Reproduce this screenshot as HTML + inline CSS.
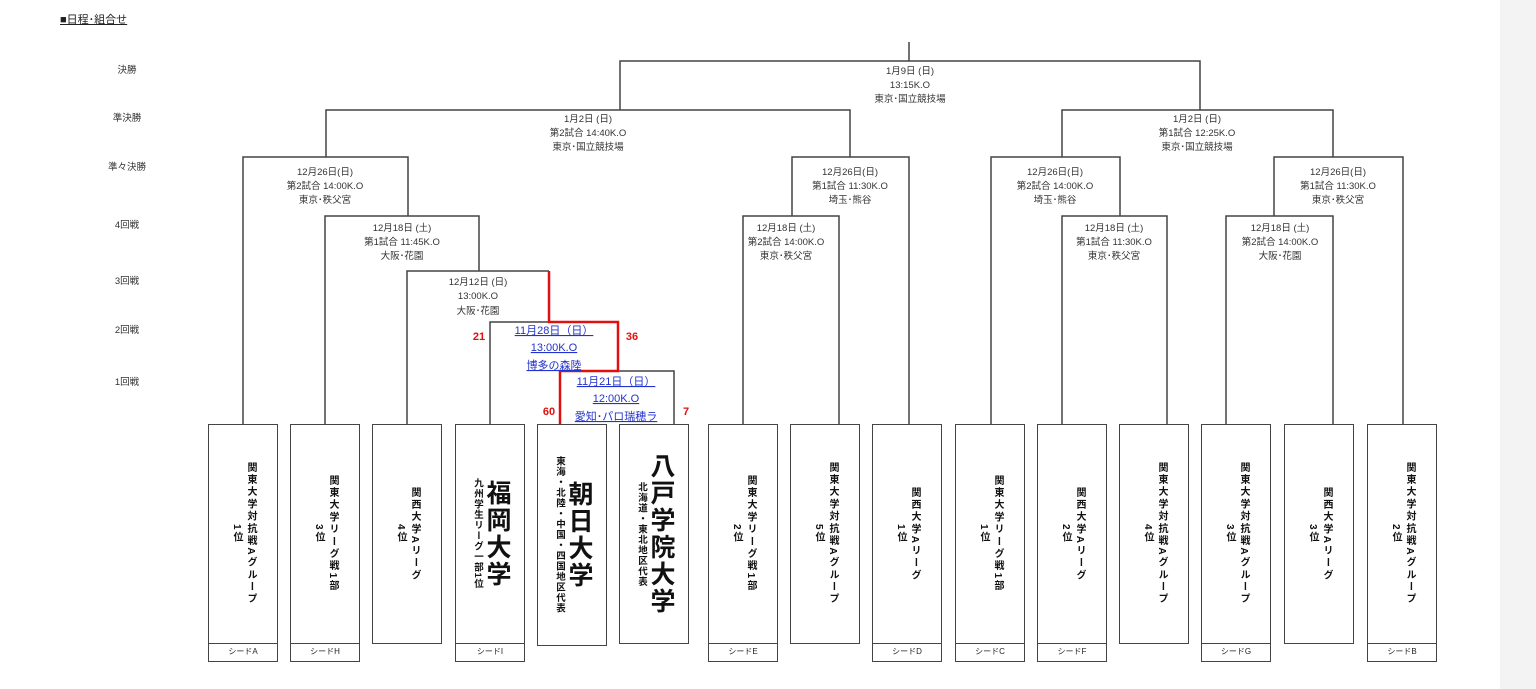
<!DOCTYPE html>
<html><head><meta charset="utf-8">
<style>
body{margin:0;width:1536px;height:689px;background:#fff;position:relative;overflow:hidden;font-family:"Liberation Sans","Noto Sans CJK JP",sans-serif;}
.strip{position:absolute;left:1500px;top:0;width:36px;height:689px;background:#f3f3f3;}
.box{position:absolute;top:424px;width:70px;height:220px;border:1.5px solid #444;box-sizing:border-box;display:flex;align-items:center;justify-content:center;background:#fff;}
.v{writing-mode:vertical-rl;text-align:center;font-weight:bold;font-size:10px;letter-spacing:2.2px;line-height:14px;color:#111;}
.seed{position:absolute;top:643px;width:70px;height:19px;border:1.5px solid #444;box-sizing:border-box;font-size:8px;text-align:center;line-height:16px;color:#222;}
.big{font-size:25px;letter-spacing:2px;line-height:26px;}
.sm{font-size:9.5px;letter-spacing:1px;line-height:12px;}
.lbl{position:absolute;font-size:9.5px;color:#333;width:60px;text-align:center;}
</style></head><body>
<div class="strip"></div>
<div style="position:absolute;left:60px;top:11px;font-size:11px;color:#222;text-decoration:underline;">■日程･組合せ</div>
<div class="lbl" style="left:97px;top:62px">決勝</div>
<div class="lbl" style="left:97px;top:110px">準決勝</div>
<div class="lbl" style="left:97px;top:159px">準々決勝</div>
<div class="lbl" style="left:97px;top:217px">4回戦</div>
<div class="lbl" style="left:97px;top:273px">3回戦</div>
<div class="lbl" style="left:97px;top:322px">2回戦</div>
<div class="lbl" style="left:97px;top:374px">1回戦</div>

<svg width="1536" height="689" style="position:absolute;left:0;top:0" xmlns="http://www.w3.org/2000/svg">
<g stroke="#444" stroke-width="1.5" fill="none">
<path d="M909 42V61M620 110V61H1200V110"/>
<path d="M326 157V110H850V157M1062 157V110H1333V157"/>
<path d="M243 424V157H408V216M792 216V157H909V424M991 424V157H1120V216M1274 216V157H1403V424"/>
<path d="M325 424V216H479V271M743 424V216H839V424M1062 424V216H1167V424M1226 424V216H1333V424"/>
<path d="M407 424V271H549M490 424V322H549M618 371H674V424"/>
</g>
<path d="M549 271V322H618V371H560V424" stroke="#e01010" stroke-width="2.5" fill="none"/>
<g font-size="9.5" fill="#333" text-anchor="middle" font-family="Liberation Sans, Noto Sans CJK JP, sans-serif">
<text x="910" y="74">1月9日 (日)</text><text x="910" y="88">13:15K.O</text><text x="910" y="102">東京･国立競技場</text>
<text x="588" y="122">1月2日 (日)</text><text x="588" y="136">第2試合 14:40K.O</text><text x="588" y="150">東京･国立競技場</text>
<text x="1197" y="122">1月2日 (日)</text><text x="1197" y="136">第1試合 12:25K.O</text><text x="1197" y="150">東京･国立競技場</text>
<text x="325" y="175">12月26日(日)</text><text x="325" y="189">第2試合 14:00K.O</text><text x="325" y="203">東京･秩父宮</text>
<text x="850" y="175">12月26日(日)</text><text x="850" y="189">第1試合 11:30K.O</text><text x="850" y="203">埼玉･熊谷</text>
<text x="1055" y="175">12月26日(日)</text><text x="1055" y="189">第2試合 14:00K.O</text><text x="1055" y="203">埼玉･熊谷</text>
<text x="1338" y="175">12月26日(日)</text><text x="1338" y="189">第1試合 11:30K.O</text><text x="1338" y="203">東京･秩父宮</text>
<text x="402" y="231">12月18日 (土)</text><text x="402" y="245">第1試合 11:45K.O</text><text x="402" y="259">大阪･花園</text>
<text x="786" y="231">12月18日 (土)</text><text x="786" y="245">第2試合 14:00K.O</text><text x="786" y="259">東京･秩父宮</text>
<text x="1114" y="231">12月18日 (土)</text><text x="1114" y="245">第1試合 11:30K.O</text><text x="1114" y="259">東京･秩父宮</text>
<text x="1280" y="231">12月18日 (土)</text><text x="1280" y="245">第2試合 14:00K.O</text><text x="1280" y="259">大阪･花園</text>
<text x="478" y="285">12月12日 (日)</text><text x="478" y="299">13:00K.O</text><text x="478" y="314">大阪･花園</text>
</g>
<g font-size="11" fill="#2233cc" text-anchor="middle" text-decoration="underline" font-family="Liberation Sans, Noto Sans CJK JP, sans-serif">
<text x="554" y="334">11月28日（日）</text><text x="554" y="351">13:00K.O</text><text x="554" y="369">博多の森陸</text>
<text x="616" y="385">11月21日（日）</text><text x="616" y="402">12:00K.O</text><text x="616" y="420">愛知･パロ瑞穂ラ</text>
</g>
<g font-size="11" fill="#e01010" font-weight="bold" text-anchor="middle" font-family="Liberation Sans, sans-serif">
<text x="479" y="340">21</text><text x="632" y="340">36</text><text x="549" y="415">60</text><text x="686" y="415">7</text>
</g>
</svg>

<div class="box" style="left:208px"><div class="v">関東大学対抗戦Aグループ<br>1位</div></div>
<div class="seed" style="left:208px">シードA</div>
<div class="box" style="left:290px"><div class="v">関東大学リーグ戦1部<br>3位</div></div>
<div class="seed" style="left:290px">シードH</div>
<div class="box" style="left:372px"><div class="v">関西大学Aリーグ<br>4位</div></div>
<div class="box" style="left:455px"><div class="v"><span class="big">福岡大学</span><br><span class="sm">九州学生リーグ一部1位</span></div></div>
<div class="seed" style="left:455px">シードI</div>
<div class="box" style="left:537px;height:222px"><div class="v"><span class="big">朝日大学</span><br><span class="sm">東海・北陸・中国・四国地区代表</span></div></div>
<div class="box" style="left:619px"><div class="v"><span class="big">八戸学院大学</span><br><span class="sm">北海道・東北地区代表</span></div></div>
<div class="box" style="left:708px"><div class="v">関東大学リーグ戦1部<br>2位</div></div>
<div class="seed" style="left:708px">シードE</div>
<div class="box" style="left:790px"><div class="v">関東大学対抗戦Aグループ<br>5位</div></div>
<div class="box" style="left:872px"><div class="v">関西大学Aリーグ<br>1位</div></div>
<div class="seed" style="left:872px">シードD</div>
<div class="box" style="left:955px"><div class="v">関東大学リーグ戦1部<br>1位</div></div>
<div class="seed" style="left:955px">シードC</div>
<div class="box" style="left:1037px"><div class="v">関西大学Aリーグ<br>2位</div></div>
<div class="seed" style="left:1037px">シードF</div>
<div class="box" style="left:1119px"><div class="v">関東大学対抗戦Aグループ<br>4位</div></div>
<div class="box" style="left:1201px"><div class="v">関東大学対抗戦Aグループ<br>3位</div></div>
<div class="seed" style="left:1201px">シードG</div>
<div class="box" style="left:1284px"><div class="v">関西大学Aリーグ<br>3位</div></div>
<div class="box" style="left:1367px"><div class="v">関東大学対抗戦Aグループ<br>2位</div></div>
<div class="seed" style="left:1367px">シードB</div>
</body></html>
